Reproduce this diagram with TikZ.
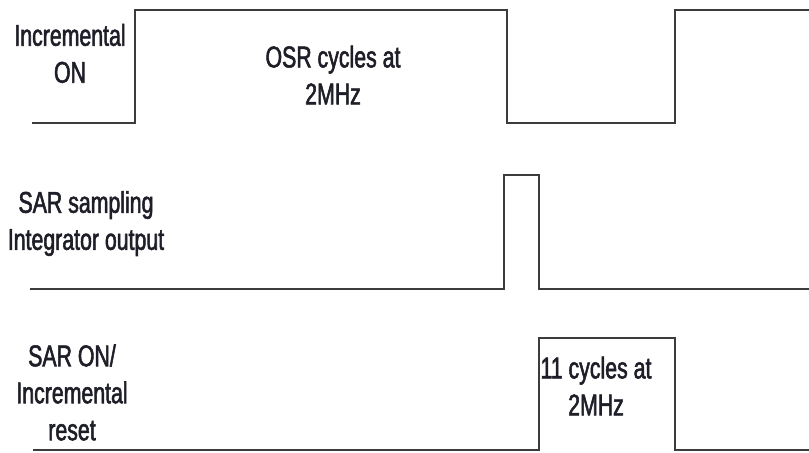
\documentclass[tikz,border=0pt]{standalone}
\usepackage{fontspec}
\setmainfont{Liberation Sans}[FakeStretch = 0.71, FakeBold = 1.8]
\definecolor{wavegray}{HTML}{3C3C3C}
\definecolor{textdark}{HTML}{1E1E28}
\tikzset {
    wave/.style = {draw = wavegray, line width = 1pt, line join = miter},
    signal name/.style = {
        align = center,
        inner sep = 0pt,
        text = textdark,
        font = \fontsize{15}{18.5}\selectfont
    },
}

\begin{document}
\begin{tikzpicture}[x = 0.5pt, y = -0.5pt]
    \useasboundingbox (0, 0) rectangle (809, 452);
    % signal levels
    \coordinate (on low) at (32, 123);
    \coordinate (on high) at (0, 9.5);
    \coordinate (smp low) at (30, 289);
    \coordinate (smp high) at (0, 175);
    \coordinate (sar low) at (33, 450);
    \coordinate (sar high) at (0, 338);
    % edges
    \coordinate (osr start) at (135, 0);
    \coordinate (osr end) at (507, 0);
    \coordinate (smp start) at (504, 0);
    \coordinate (smp end) at (539, 0);
    \coordinate (sar end) at (675, 0);
    \coordinate (right) at (809, 0);

    \draw [wave] (on low) -- (on low -| osr start) -- (on high -| osr start)
        -- (on high -| osr end) -- (on low -| osr end) -- (on low -| sar end)
        -- (on high -| sar end) -- (on high -| right);
    \draw [wave] (smp low) -- (smp low -| smp start) -- (smp high -| smp start)
        -- (smp high -| smp end) -- (smp low -| smp end) -- (smp low -| right);
    \draw [wave] (sar low) -- (sar low -| smp end) -- (sar high -| smp end)
        -- (sar high -| sar end) -- (sar low -| sar end) -- (sar low -| right);

    \node [signal name] (on name) at (70, 53.5) {Incremental\\ON};
    \node [signal name] (osr text) at (333, 75) {OSR cycles at\\2MHz};
    \node [signal name] (smp name) at (86, 223.5) {SAR sampling\\Integrator output};
    \node [signal name] (sar name) at (72, 392.5) {SAR ON/\\Incremental\\reset};
    \node [signal name] (sar text) at (596, 386) {11 cycles at\\2MHz};
\end{tikzpicture}
\end{document}
